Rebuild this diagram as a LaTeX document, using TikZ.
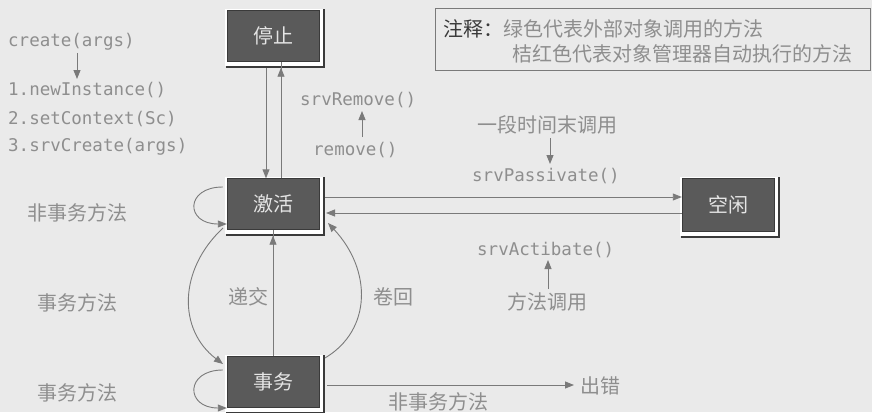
\documentclass[tikz,border=0pt]{standalone}
\usepackage{fontspec}
\setmonofont{DejaVu Sans Mono}
\newfontfamily\cjk{Noto Sans CJK SC}
\usetikzlibrary{arrows.meta}
\definecolor{bgc}{HTML}{EAEAEA}
\definecolor{boxc}{HTML}{5A5A5A}
\definecolor{linec}{HTML}{7A7A7A}
\definecolor{txtc}{HTML}{8E8E8E}
\definecolor{darkt}{HTML}{3A3A3A}
\tikzset{
  x=1pt, y=-1pt,
  state/.style={minimum width=92pt, minimum height=51pt, fill=boxc, draw=darkt, line width=0.8pt,
    text=white!80!gray, font=\cjk\fontsize{20}{20}\selectfont, inner sep=0pt},
  ghost/.style={minimum width=92pt, minimum height=51pt, inner sep=0pt},
  code/.style={text=txtc, font=\ttfamily\fontsize{17.5}{18}\selectfont, inner sep=0pt, anchor=west},
  cn/.style={text=txtc, font=\cjk\fontsize{20}{20}\selectfont, inner sep=0pt},
  conn/.style={draw=linec, line width=0.9pt, -{Triangle[length=9pt,width=7pt]}},
}
\newcommand{\bevel}[1]{%
  \fill[white] ([shift={(-1.5,-1.5)}]#1.north west) rectangle ([shift={(4.5,4.5)}]#1.south east);
  \draw[darkt, line width=2pt] ([shift={(5,-1)}]#1.north east) -- ([shift={(5,5)}]#1.south east) -- ([shift={(-1,5)}]#1.south west);
}
\begin{document}
\begin{tikzpicture}
\fill[bgc] (0,0) rectangle (872,412);
\useasboundingbox (0,0) rectangle (872,412);

% state boxes
\path (273,36) node[ghost] (stop) {};
\path (273,204) node[ghost] (act) {};
\path (273,382) node[ghost] (tx) {};
\path (728,205) node[ghost, minimum height=53pt] (idle) {};
\bevel{stop}\bevel{act}\bevel{tx}\bevel{idle}
\node[state] at (stop) {停止};
\node[state] at (act) {激活};
\node[state] at (tx) {事务};
\node[state, minimum height=53pt] at (idle) {空闲};

% note box
\node[draw=linec, line width=0.9pt, minimum width=435pt, minimum height=62pt, inner sep=0pt] (note) at (652.5,39) {};
\node[anchor=west, inner sep=0pt, font=\cjk\fontsize{20}{20}\selectfont, text=darkt] (notet) at (443,29) {注释：\textcolor{txtc}{绿色代表外部对象调用的方法}};
\node[anchor=west, inner sep=0pt, font=\cjk\fontsize{20}{20}\selectfont, text=txtc] (notes) at (512,54) {桔红色代表对象管理器自动执行的方法};

% create text
\node[code] (create) at (8,42) {create(args)};
\node[code] (l1) at (8,90) {1.newInstance()};
\node[code] (l2) at (8,119) {2.setContext(Sc)};
\node[code] (l3) at (8,147) {3.srvCreate(args)};
\coordinate (ca) at (77,53);
\coordinate (cb) at (77,79);
\draw[conn] (ca) -- (cb);

% stop <-> act
\draw[conn] ([xshift=-7]stop.south) ++(0,6) -- ([xshift=-7]act.north);
\draw[conn] ([xshift=8]act.north) -- ([xshift=8]stop.south) ++(0,6);

% remove
\node[code] (srvrem) at (300,100) {srvRemove()};
\node[code] (rem) at (313,150) {remove()};
\coordinate (r1) at (362,137);
\coordinate (r2) at (362,111);
\draw[conn] (r1) -- (r2);

% act <-> idle
\coordinate (ai1) at (325,197);
\coordinate (ai2) at (326,213);
\draw[conn] (ai1) -- (idle.west |- ai1);
\draw[conn] (idle.west |- ai2) -- (ai2);

\node[cn, anchor=west] (tmo) at (477,125) {一段时间末调用};
\node[code] (pas) at (472,176) {srvPassivate()};
\coordinate (p1) at (550,138);
\coordinate (p2) at (550,164);
\draw[conn] (p1) -- (p2);

\node[code] (acti) at (477,250) {srvActibate()};
\node[cn, anchor=west] (mcall) at (507,302) {方法调用};
\coordinate (m1) at (548,289);
\coordinate (m2) at (548,260);
\draw[conn] (m1) -- (m2);

% self loops
\draw[conn] (act.west |- 0,187) ++(-4,0) .. controls (185,187) and (185,224) .. (act.west |- 0,224);
\draw[conn] (tx.west |- 0,370) ++(-4,0) .. controls (185,370) and (185,408) .. (tx.west |- 0,408);

% big curves
\draw[conn] (223,228) .. controls (178,270) and (178,330) .. (223,364);
\draw[conn] (325,358) .. controls (372,330) and (372,270) .. (328,223);
\draw[conn] (tx.north -| 273,0) -- (act.south -| 273,0) ++(0,6);

\node[cn] (dj) at (248,297) {递交};
\node[cn] (jh) at (393,297) {卷回};

% left labels
\node[cn, anchor=west] (ntm) at (27,213) {非事务方法};
\node[cn, anchor=west] (tm1) at (37,303) {事务方法};
\node[cn, anchor=west] (tm2) at (37,393) {事务方法};

% error
\node[cn, anchor=west] (err) at (580,386) {出错};
\coordinate (e1) at (327,385);
\coordinate (e2) at (574,385);
\draw[conn] (e1) -- (e2);
\node[cn, anchor=west] (ntm2) at (388,402) {非事务方法};
\end{tikzpicture}
\end{document}
